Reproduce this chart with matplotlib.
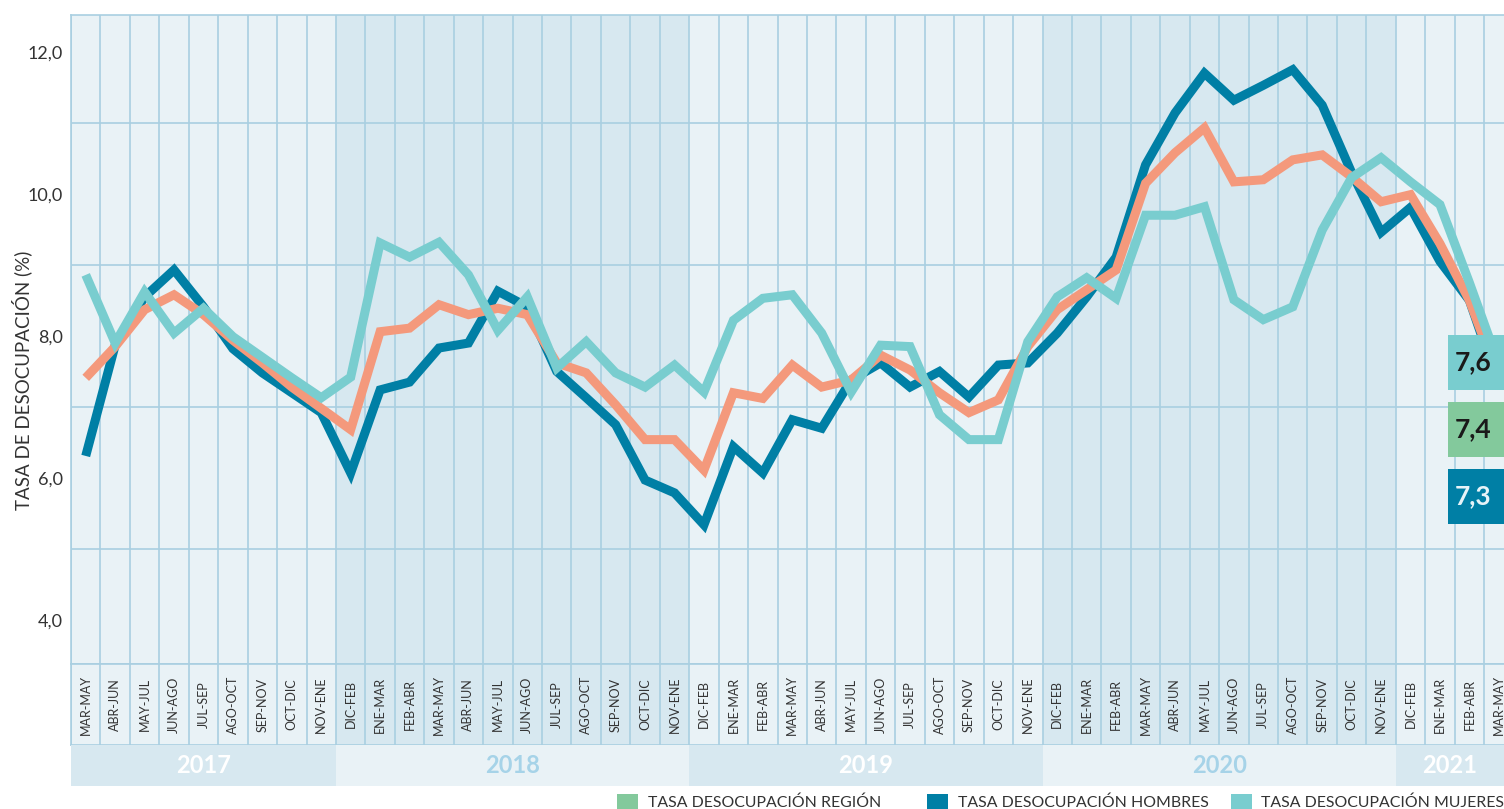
import matplotlib
matplotlib.use('Agg')
import matplotlib.pyplot as plt
from matplotlib.patches import Rectangle

plt.rcParams['font.family'] = ['Lato', 'DejaVu Sans']

# periodos moviles trimestrales
inicio_2017 = ['MAR-MAY', 'ABR-JUN', 'MAY-JUL', 'JUN-AGO', 'JUL-SEP', 'AGO-OCT',
               'SEP-NOV', 'OCT-DIC', 'NOV-ENE']
ciclo = ['DIC-FEB', 'ENE-MAR', 'FEB-ABR', 'MAR-MAY', 'ABR-JUN', 'MAY-JUL',
         'JUN-AGO', 'JUL-SEP', 'AGO-OCT', 'SEP-NOV', 'OCT-DIC', 'NOV-ENE']
inicio_2021 = ['DIC-FEB', 'ENE-MAR', 'FEB-ABR', 'MAR-MAY']
periodos = inicio_2017 + ciclo + ciclo + ciclo + inicio_2021

anios = ['2017', '2018', '2019', '2020', '2021']
n_periodos = [9, 12, 12, 12, 4]

region = [7.41, 7.85, 8.37, 8.58, 8.30, 7.94, 7.62, 7.28, 6.98, 6.68,
          8.06, 8.11, 8.44, 8.30, 8.39, 8.30, 7.62, 7.48, 7.03, 6.54,
          6.54, 6.11, 7.20, 7.12, 7.59, 7.28, 7.38, 7.73, 7.52, 7.20,
          6.92, 7.10, 7.85, 8.37, 8.65, 8.93, 10.15, 10.58, 10.93, 10.17,
          10.20, 10.48, 10.55, 10.24, 9.89, 9.99, 9.30, 8.50, 7.4]
hombres = [6.31, 7.87, 8.55, 8.93, 8.41, 7.82, 7.48, 7.20, 6.92, 6.07,
           7.24, 7.35, 7.83, 7.90, 8.63, 8.41, 7.50, 7.13, 6.75, 5.97,
           5.79, 5.34, 6.44, 6.07, 6.82, 6.70, 7.38, 7.62, 7.28, 7.50,
           7.14, 7.59, 7.62, 8.04, 8.55, 9.11, 10.41, 11.14, 11.70, 11.32,
           11.53, 11.75, 11.25, 10.30, 9.46, 9.81, 9.05, 8.50, 7.3]
mujeres = [8.86, 7.90, 8.62, 8.04, 8.39, 7.99, 7.70, 7.41, 7.13, 7.42,
           9.31, 9.11, 9.32, 8.86, 8.08, 8.55, 7.55, 7.92, 7.48, 7.28,
           7.59, 7.21, 8.22, 8.53, 8.58, 8.04, 7.21, 7.87, 7.85, 6.89,
           6.54, 6.54, 7.92, 8.55, 8.82, 8.53, 9.70, 9.70, 9.82, 8.51,
           8.23, 8.41, 9.49, 10.23, 10.51, 10.17, 9.85, 8.75, 7.6]

C_REGION_LINE = '#f4997c'
C_REGION = '#83c99c'
C_HOMBRES = '#007fa5'
C_MUJERES = '#79cdcf'
C_GRID = '#a9cfe1'
C_LIGHT = '#e9f2f6'
C_DARK = '#d7e8f0'
C_TEXT = '#333333'

W, H = 1504, 809
fig = plt.figure(figsize=(W / 100, H / 100), dpi=100)


def fx(px):
    return px / W


def fy(py):
    return 1 - py / H


col_w = 29.44
x0 = 71
n = len(periodos)
ancho = n * col_w / W

ax = fig.add_axes([fx(x0), fy(664), ancho, (664 - 15) / H])
ax_lab = fig.add_axes([fx(x0), fy(745), ancho, (745 - 664) / H])
ax_year = fig.add_axes([fx(x0), fy(786), ancho, (786 - 745) / H])

# fondos por año
start = 0
for k, (anio, cnt) in enumerate(zip(anios, n_periodos)):
    fondo = C_LIGHT if k % 2 == 0 else C_DARK
    banda = C_DARK if k % 2 == 0 else C_LIGHT
    txt_col = 'white' if k % 2 == 0 else '#a6d3e8'
    ax.axvspan(start, start + cnt, color=fondo, lw=0, zorder=0)
    ax_lab.axvspan(start, start + cnt, color=fondo, lw=0, zorder=0)
    ax_year.axvspan(start, start + cnt, color=banda, lw=0, zorder=0)
    xc = start + cnt / 2
    if anio == '2021':
        xc = start + (min(start + cnt, (W - x0) / col_w) - start) / 2
    ax_year.text(xc, 0.5, anio, ha='center', va='center', fontsize=17,
                 fontweight='bold', color=txt_col)
    start += cnt

for a in (ax, ax_lab):
    for k in range(n + 1):
        a.axvline(k, color=C_GRID, lw=1.2, zorder=1)
for v in [5, 7, 9, 11]:
    ax.axhline(v, color=C_GRID, lw=1.2, zorder=1)

xs = [i + 0.5 for i in range(n)]
line_kw = dict(lw=6.5, solid_joinstyle='miter', solid_capstyle='butt', zorder=3)
ax.plot(xs, hombres, color=C_HOMBRES, **line_kw)
ax.plot(xs, region, color=C_REGION_LINE, **line_kw)
ax.plot(xs, mujeres, color=C_MUJERES, **line_kw)

ax.set_xlim(0, n)
ax.set_ylim(3.38, 12.52)
ax.set_xticks([])
ax.set_yticks([4, 6, 8, 10, 12])
ax.set_yticklabels(['4,0', '6,0', '8,0', '10,0', '12,0'])
ax.tick_params(axis='y', length=0, pad=6, labelsize=13, labelcolor=C_TEXT)
for s in ax.spines.values():
    s.set_color(C_GRID)
    s.set_linewidth(1.2)

ax_lab.set_xlim(0, n)
ax_lab.set_ylim(0, 1)
for i, p in enumerate(periodos):
    ax_lab.text(i + 0.5, 0.5, p, rotation=90, ha='center', va='center',
                fontsize=9, color=C_TEXT)
ax_lab.set_xticks([])
ax_lab.set_yticks([])
for s in ax_lab.spines.values():
    s.set_color(C_GRID)
    s.set_linewidth(1.2)

ax_year.set_xlim(0, n)
ax_year.set_ylim(0, 1)
ax_year.axis('off')

fig.text(fx(22), fy(380), 'TASA DE DESOCUPACIÓN (%)', rotation=90,
         ha='center', va='center', fontsize=13.5, color=C_TEXT)

# etiquetas finales
finales = [(mujeres[-1], C_MUJERES, '#1a1a1a', 335),
           (region[-1], C_REGION, '#1a1a1a', 402),
           (hombres[-1], C_HOMBRES, '#e6f3f8', 469)]
for val, fc, tc, top in finales:
    fig.add_artist(Rectangle((fx(1448), fy(top + 55)), fx(70), 55 / H,
                             transform=fig.transFigure, facecolor=fc,
                             edgecolor='none', zorder=5))
    fig.text(fx(1455), fy(top + 27.5), f'{val:.1f}'.replace('.', ','),
             ha='left', va='center', fontsize=19, fontweight='bold',
             color=tc, zorder=6)

# leyenda
leyenda = [('TASA DESOCUPACIÓN REGIÓN', C_REGION, 617, 648),
           ('TASA DESOCUPACIÓN HOMBRES', C_HOMBRES, 927, 958),
           ('TASA DESOCUPACIÓN MUJERES', C_MUJERES, 1231, 1261)]
for txt, col, xq, xt in leyenda:
    fig.add_artist(Rectangle((fx(xq), fy(813)), fx(21), 19 / H,
                             transform=fig.transFigure, facecolor=col,
                             edgecolor='none'))
    fig.text(fx(xt), fy(803), txt, ha='left', va='center', fontsize=11.4,
             color=C_TEXT)

fig.savefig('out.png', dpi=100)
